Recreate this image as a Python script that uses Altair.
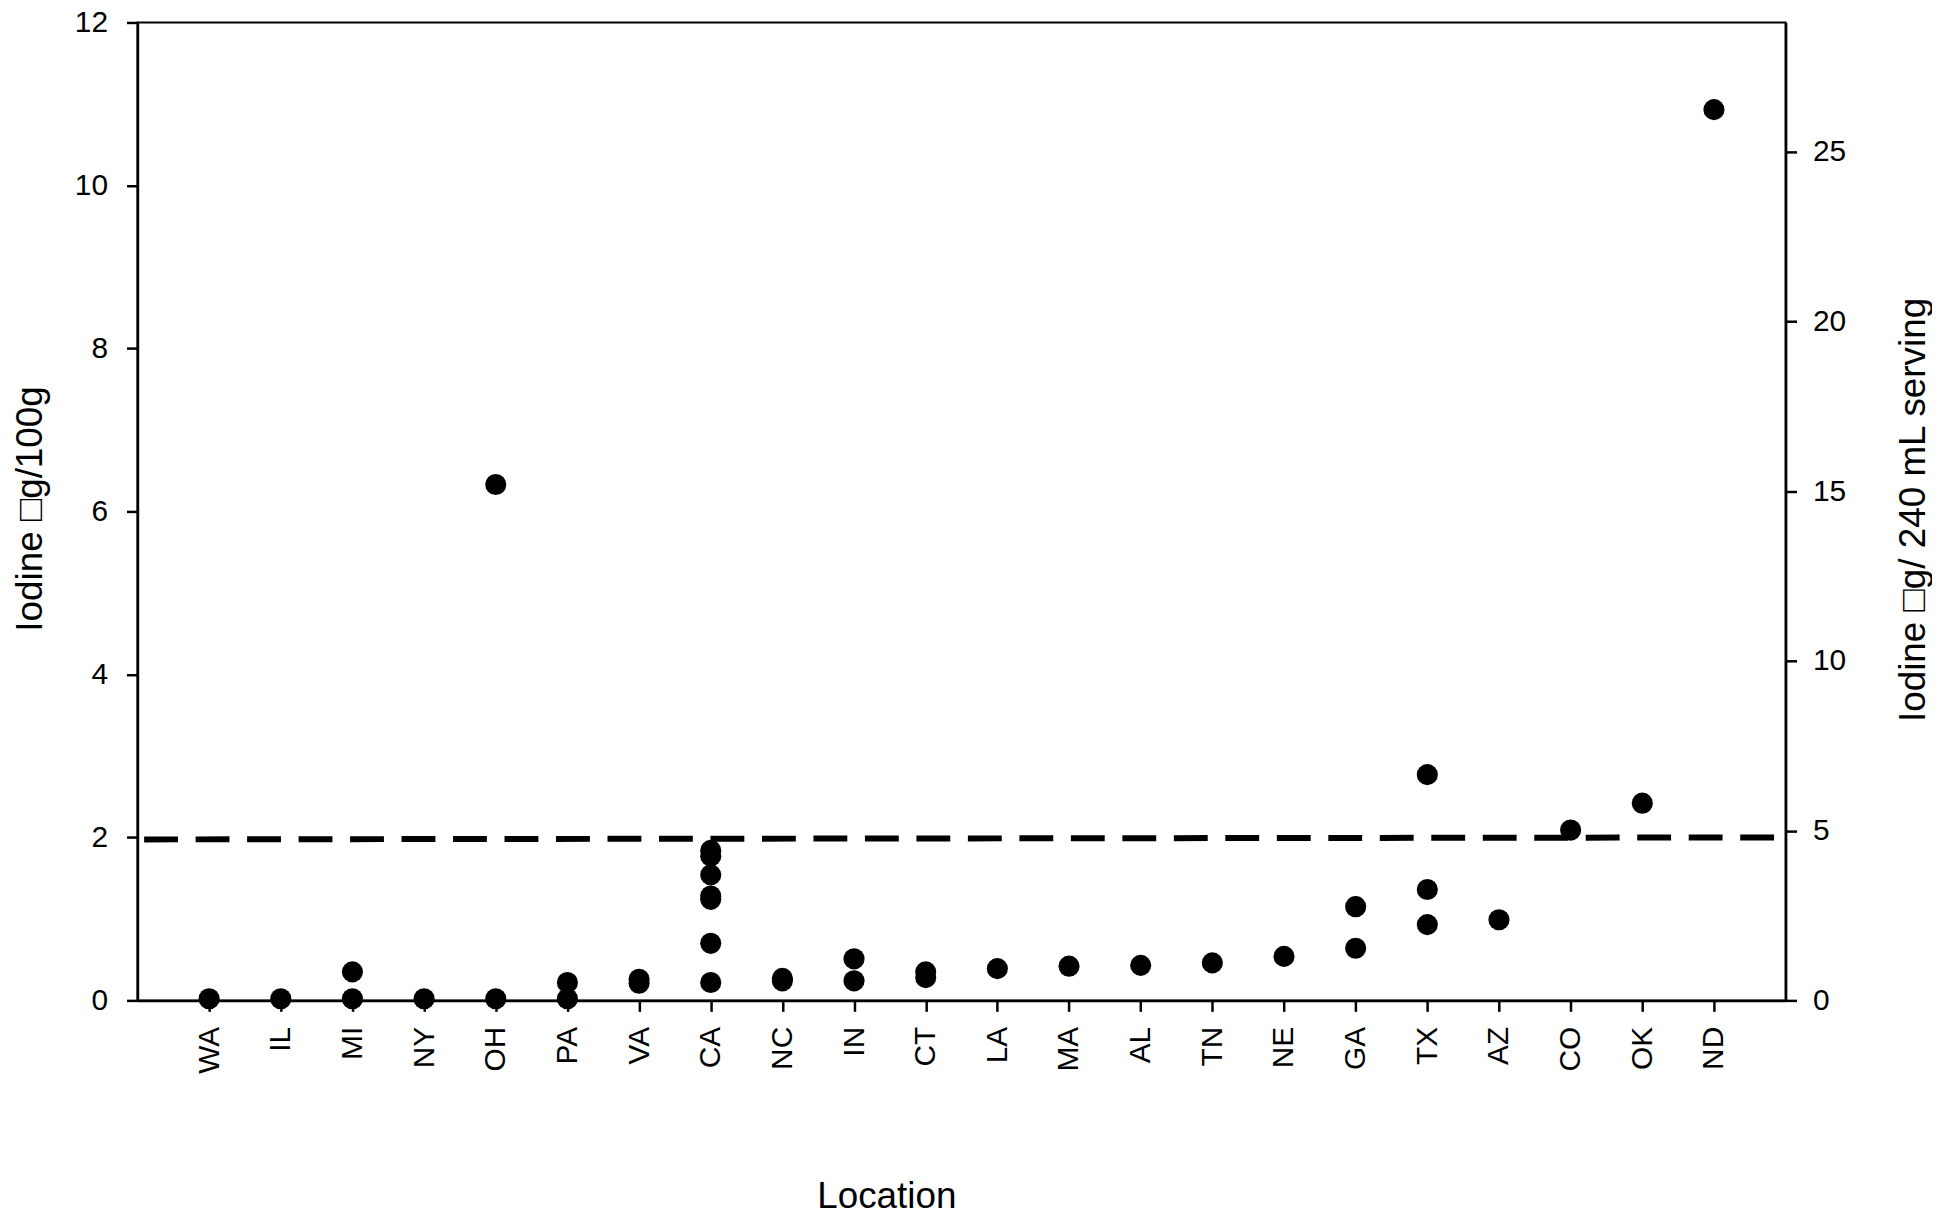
import altair as alt
import pandas as pd

# ---- data ----
states = ["WA", "IL", "MI", "NY", "OH", "PA", "VA", "CA", "NC", "IN", "CT",
          "LA", "MA", "AL", "TN", "NE", "GA", "TX", "AZ", "CO", "OK", "ND"]

sample_state = ["WA", "IL", "MI", "MI", "NY", "OH", "OH", "PA", "PA", "VA", "VA",
                "CA", "CA", "CA", "CA", "CA", "CA", "CA",
                "NC", "NC", "IN", "IN", "CT", "CT", "LA", "MA", "AL", "TN", "NE",
                "GA", "GA", "TX", "TX", "TX", "AZ", "CO", "OK", "ND"]
sample_iodine = [0.02, 0.02, 0.35, 0.02, 0.02, 6.33, 0.02, 0.22, 0.02, 0.26, 0.21,
                 1.84, 1.77, 1.54, 1.28, 1.24, 0.70, 0.22,
                 0.27, 0.24, 0.51, 0.24, 0.35, 0.28, 0.39, 0.42, 0.43, 0.46, 0.54,
                 1.15, 0.64, 2.77, 1.36, 0.93, 0.99, 2.09, 2.42, 10.93]

# dashed reference line (start / end of plot)
line_pos = [0, 1]
line_iodine = [1.975, 2.0]

left_ticks = [0, 2, 4, 6, 8, 10, 12]
right_ticks = [0, 5, 10, 15, 20, 25]
serving_factor = 2.4  # 100 g -> 240 mL serving

points_df = pd.DataFrame({"state": sample_state, "iodine": sample_iodine})
line_df = pd.DataFrame({"pos": line_pos, "iodine": line_iodine})

FONT = "Liberation Sans, Arial, sans-serif"
W, H = 1655, 982

common_axis = dict(
    domainColor="black", domainWidth=2.5, tickColor="black", tickWidth=2.5,
    tickSize=11, labelFont=FONT, labelFontSize=30, labelColor="black",
    titleFont=FONT, titleFontSize=37, titleFontWeight="normal", titleColor="black",
    grid=False, labelFlush=False,
)

x_scale = alt.Scale(type="point", padding=1)

points = alt.Chart(points_df).mark_circle(size=450, color="black", opacity=1).encode(
    x=alt.X("state:N", sort=states, scale=x_scale,
            axis=alt.Axis(title="Location", labelAngle=270, labelAlign="right",
                          labelBaseline="middle", labelPadding=15,
                          titleX=752, titleY=208, titleAlign="center",
                          titleBaseline="alphabetic", titleAngle=0,
                          **common_axis)),
    y=alt.Y("iodine:Q", scale=alt.Scale(domain=[0, 12], nice=False, zero=True),
            axis=alt.Axis(orient="left", values=left_ticks, title="Iodine \u25a1g/100g",
                          labelPadding=19, titleAngle=270, titleX=-96, titleY=488,
                          titleAlign="center", titleBaseline="alphabetic",
                          **common_axis)),
)

dash = alt.Chart(line_df).mark_line(
    color="black", strokeWidth=6, strokeDash=[34, 17.7], strokeDashOffset=45
).encode(
    x=alt.X("pos:Q", scale=alt.Scale(domain=[0, 1], nice=False, zero=False), axis=None),
    y=alt.Y("iodine:Q", scale=alt.Scale(domain=[0, 12], nice=False, zero=True), axis=None),
)

serving = alt.Chart(points_df).transform_calculate(
    serving=f"datum.iodine * {serving_factor}"
).mark_circle(opacity=0).encode(
    x=alt.X("state:N", sort=states, scale=x_scale, axis=None),
    y=alt.Y("serving:Q", scale=alt.Scale(domain=[0, 12 * serving_factor], nice=False, zero=True),
            axis=alt.Axis(orient="right", values=right_ticks,
                          title="Iodine \u25a1g/ 240 mL serving",
                          labelPadding=16, titleAngle=270, titleX=139, titleY=489,
                          titleAlign="center", titleBaseline="alphabetic",
                          **common_axis)),
)

chart = alt.layer(points, dash, serving).resolve_scale(
    x="independent", y="independent"
).properties(
    width=W, height=H,
    autosize=alt.AutoSizeParams(type="none"),
    padding={"left": 130, "top": 12, "right": 147, "bottom": 215},
).configure_view(stroke="black", strokeWidth=2)

chart.save("out.html", embed_options={"renderer": "svg", "actions": False})
